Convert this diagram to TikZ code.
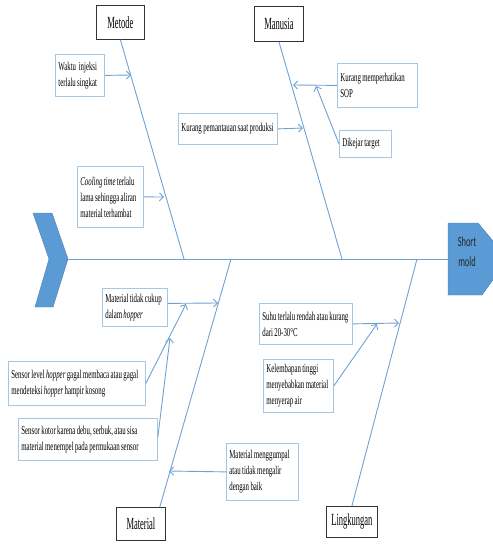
\documentclass[tikz,border=0pt]{standalone}
\usepackage{fontspec}
\newfontfamily\fishfont[FakeStretch=0.57,WordSpace=0.8]{Liberation Serif}
\newfontfamily\catfont[FakeStretch=0.5]{Liberation Serif}
\newfontfamily\headfont[FakeStretch=0.6]{Carlito}
\usetikzlibrary{arrows.meta}
\definecolor{bonecol}{HTML}{6FA1D3}
\definecolor{boxline}{HTML}{A9C6E0}
\definecolor{fishblue}{HTML}{5B9BD5}
\definecolor{fishedge}{HTML}{4A7EB0}

\begin{document}
\begin{tikzpicture}[x=1pt,y=-1pt,
    cause/.style={draw=boxline, line width=0.8pt, fill=white, anchor=north west, align=flush left, inner sep=3pt, font=\fontsize{12}{16}\selectfont\fishfont},
    category/.style={draw=black!80, line width=0.8pt, fill=white, anchor=north west, inner sep=0pt, font=\fontsize{17}{20}\selectfont\catfont},
    bone/.style={draw=bonecol, line width=0.9pt},
    tip/.style={bone, -{Straight Barb[length=4pt,width=8pt]}}]
    \useasboundingbox (0,0) rectangle (492,545);

    \filldraw[fill=fishblue, draw=fishedge] (33,213) -- (52,213) -- (68,259) -- (53,307) -- (35,307) -- (49,259) -- cycle;
    \filldraw[fill=fishblue, draw=fishedge] (448,223) -- (478,223) -- (508,259) -- (482,295) -- (448,295) -- cycle;
    \node[font=\fontsize{14}{20}\selectfont\headfont, text=black!85, align=center] (head) at (467,252) {Short\\mold};
    \coordinate (tail) at (68,259);
    \coordinate (headw) at (448,259);
    \draw[bone] (tail) -- (headw);

    \node[category, minimum width=48pt, minimum height=34pt] (metode) at (96,5) {Metode};
    \node[category, minimum width=49pt, minimum height=35pt] (manusia) at (254,6) {Manusia};
    \node[category, minimum width=49pt, minimum height=33pt] (material) at (116,507) {Material};
    \node[category, minimum width=51pt, minimum height=31pt] (lingkungan) at (326,506) {Lingkungan};

    \coordinate (jmetode) at (184,259);
    \coordinate (jmanusia) at (342,259);
    \coordinate (jmaterial) at (231,259);
    \coordinate (jlingkungan) at (417,259);
    \draw[bone] (metode.south) -- (jmetode);
    \draw[bone] (manusia.south) -- (jmanusia);
    \draw[bone] ([xshift=-6pt]material.north east) -- (jmaterial);
    \draw[bone] (lingkungan.north) -- (jlingkungan);

    \node[cause, text width=43pt, minimum height=42pt] (waktu) at (55,54) {Waktu~~injeksi\\terlalu singkat};
    \node[cause, text width=60pt, minimum height=61pt] (cooling) at (77,166) {\textit{Cooling time} terlalu\\lama sehingga aliran\\material terhambat};
    \coordinate (m1) at (131,75);
    \coordinate (m2) at (164,197);
    \draw[tip] (waktu.east) -- (m1);
    \draw[tip] (cooling.east) -- (m2);

    \node[cause, text width=93pt, minimum height=31pt] (pemantauan) at (178,113) {Kurang pemantauan saat produksi};
    \node[cause, text width=74pt, minimum height=44pt] (sop) at (337,63) {Kurang memperhatikan\\SOP};
    \node[cause, text width=46pt, minimum height=27pt] (dikejar) at (339,130) {Dikejar target};
    \coordinate (h1) at (303,128);
    \coordinate (h2) at (293,85);
    \coordinate (h3) at (316,86);
    \draw[tip] (pemantauan.east) -- (h1);
    \draw[tip] (sop.west) -- (h2);
    \draw[tip] (dikejar.west) -- (h3);

    \node[cause, text width=59pt, minimum height=38pt] (tidakcukup) at (102,288) {Material tidak cukup\\dalam \textit{hopper}};
    \node[cause, text width=131pt, minimum height=44pt] (sensorlevel) at (8,361) {Sensor level \textit{hopper} gagal membaca atau gagal\\mendeteksi \textit{hopper} hampir kosong};
    \node[cause, text width=133pt, minimum height=42pt] (sensorkotor) at (18,418) {Sensor kotor karena debu, serbuk, atau sisa\\material menempel pada permukaan sensor};
    \node[cause, text width=66pt, minimum height=57pt] (menggumpal) at (226,443) {Material menggumpal\\atau tidak mengalir\\dengan baik};
    \coordinate (t1) at (218,303);
    \coordinate (t2) at (186,304);
    \coordinate (t3) at (170,338);
    \coordinate (t4) at (169,471);
    \draw[tip] ([yshift=4pt]tidakcukup.east) -- (t1);
    \draw[tip] (sensorlevel.east) -- (t2);
    \draw[tip] ([yshift=2pt]sensorkotor.east) -- (t3);
    \draw[tip] (menggumpal.west) -- (t4);

    \node[cause, text width=87pt, minimum height=41pt] (suhu) at (259,303) {Suhu terlalu rendah atau kurang\\dari 20-30°C};
    \node[cause, text width=64pt, minimum height=53pt] (kelembapan) at (263,359) {Kelembapan tinggi\\menyebabkan material\\menyerap air};
    \coordinate (l1) at (399,323);
    \coordinate (l2) at (377,324);
    \draw[tip] (suhu.east) -- (l1);
    \draw[tip] (kelembapan.east) -- (l2);
\end{tikzpicture}
\end{document}
